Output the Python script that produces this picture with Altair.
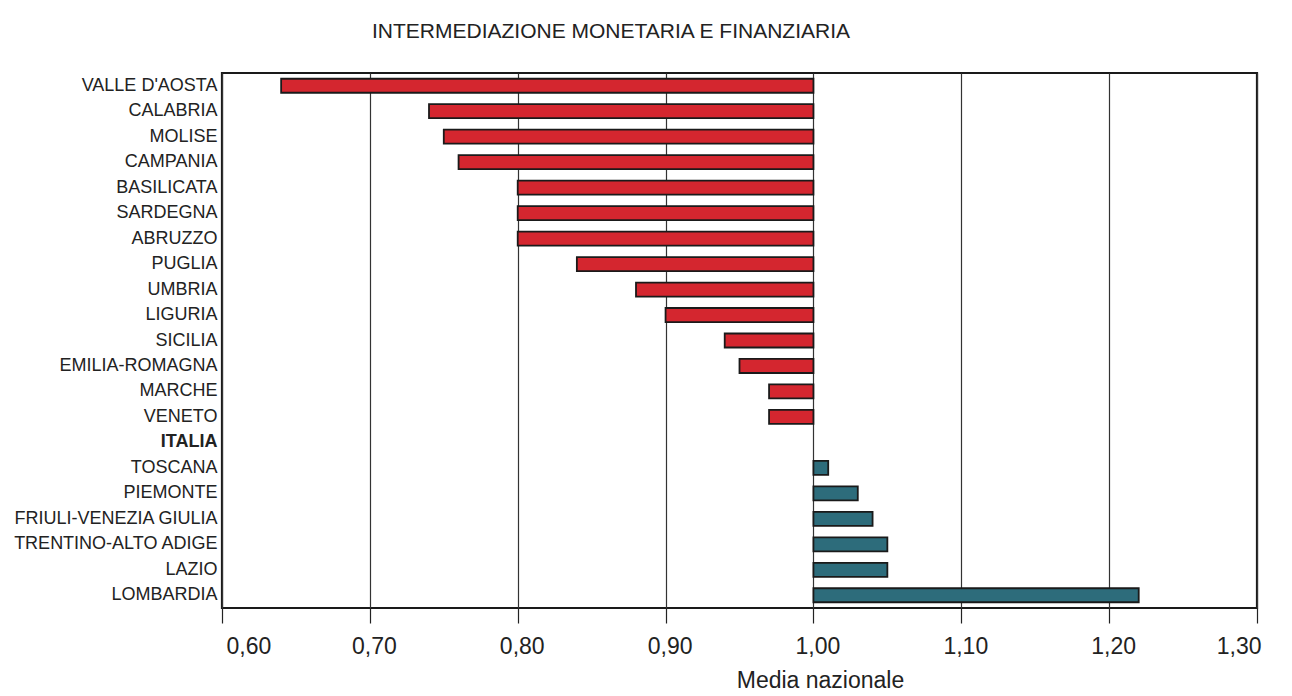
import altair as alt
import pandas as pd

regions = ["VALLE D'AOSTA", "CALABRIA", "MOLISE", "CAMPANIA", "BASILICATA", "SARDEGNA",
           "ABRUZZO", "PUGLIA", "UMBRIA", "LIGURIA", "SICILIA", "EMILIA-ROMAGNA",
           "MARCHE", "VENETO", "ITALIA", "TOSCANA", "PIEMONTE", "FRIULI-VENEZIA GIULIA",
           "TRENTINO-ALTO ADIGE", "LAZIO", "LOMBARDIA"]
values = [0.64, 0.74, 0.75, 0.76, 0.80, 0.80,
          0.80, 0.84, 0.88, 0.90, 0.94, 0.95,
          0.97, 0.97, 1.00, 1.01, 1.03, 1.04,
          1.05, 1.05, 1.22]
baseline = 1.00
x_ticks = [0.60, 0.70, 0.80, 0.90, 1.00, 1.10, 1.20, 1.30]

df = pd.DataFrame({"regione": regions, "valore": values})
df["base"] = baseline
df["gruppo"] = ["sotto" if v < baseline else ("sopra" if v > baseline else "media") for v in values]

FONT = "Liberation Sans"

bars = alt.Chart(df).transform_filter(
    "datum.gruppo != 'media'"
).mark_bar(stroke="#1a1a1a", strokeWidth=1.8).encode(
    x=alt.X("valore:Q",
            scale=alt.Scale(domain=[0.60, 1.30], nice=False, zero=False),
            axis=alt.Axis(values=x_ticks,
                          labelExpr="replace(format(datum.value, '.2f'), '.', ',')",
                          title="Media nazionale", grid=True, gridColor="#333333",
                          gridWidth=1.2, domain=False, tickColor="#222222", tickSize=15,
                          tickWidth=1.2, labelFontSize=23, labelFont=FONT,
                          labelColor="#222222", labelPadding=12, labelOffset=4,
                          titleFont=FONT, titleFontSize=23, titleFontWeight="normal",
                          titleColor="#222222", titleX=598, titleY=79,
                          titleAlign="center", titleBaseline="alphabetic")),
    x2="base:Q",
    y=alt.Y("regione:N", sort=regions,
            scale=alt.Scale(domain=regions, paddingInner=0.45, paddingOuter=0.225),
            axis=alt.Axis(title=None, ticks=False, domain=False, labelFont=FONT,
                          labelFontSize=18, labelColor="#222222", labelPadding=5,
                          labelLimit=400,
                          labelFontWeight={"condition": {"test": "datum.value == 'ITALIA'",
                                                         "value": "bold"},
                                           "value": "normal"})),
    color=alt.Color("gruppo:N",
                    scale=alt.Scale(domain=["sotto", "sopra"], range=["#d4262f", "#2d6c7b"]),
                    legend=None),
)

chart = bars.properties(
    width=1035,
    height=535,
    autosize=alt.AutoSizeParams(type="none"),
    padding={"left": 214, "top": 65, "right": 27, "bottom": 86},
    background="white",
    title=alt.TitleParams("INTERMEDIAZIONE MONETARIA E FINANZIARIA", anchor="start",
                          frame="group", dx=150, fontSize=21, font=FONT,
                          fontWeight="normal", color="#222222", offset=31),
).configure_view(stroke="#1a1a1a", strokeWidth=2.2)

chart.save("out.html", embed_options={"renderer": "svg", "actions": False})
